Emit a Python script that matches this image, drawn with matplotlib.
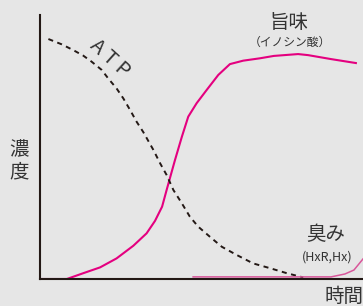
import matplotlib
matplotlib.use('Agg')
import matplotlib.pyplot as plt

plt.rcParams['font.family'] = ['Noto Sans CJK JP', 'DejaVu Sans']

# 旨味（イノシン酸）の曲線
umami_t = [0, 8.3, 13.4, 18.6, 23.7, 28.9, 33.0, 35.6, 37.8, 39.2, 40.2, 41.8,
           43.9, 45.9, 48.5, 51.6, 55.2, 58.8, 62.9, 68.1, 72.4, 79.9, 83.0,
           90.1, 97.8]
umami_c = [0, 0, 2.2, 4.4, 7.8, 12.6, 17.3, 22.0, 27.4, 33.7, 38.1, 45.1,
           53.8, 61.5, 66.6, 71.6, 77.3, 81.4, 82.7, 83.6, 84.5, 85.2, 84.8,
           83.3, 81.8]

# ATP の曲線
atp_t = [2.6, 6.7, 10.3, 13.4, 16.0, 19.1, 21.1, 23.7, 25.8, 27.9, 29.9, 32.0,
         35.1, 37.2, 39.2, 41.3, 43.9, 46.4, 49.0, 52.6, 56.3, 60.9, 66.0,
         71.2, 76.4, 81.5]
atp_c = [90.9, 88.9, 86.7, 84.6, 82.3, 79.2, 76.0, 72.2, 68.4, 64.0, 59.6, 55.6,
         48.9, 43.8, 39.4, 33.7, 28.7, 23.6, 19.8, 16.0, 12.2, 9.1, 5.9,
         4.1, 2.2, 0.6]

# 臭み（HxR,Hx）の曲線
smell_t = [47.4, 90.1, 94.4, 97.2, 100]
smell_c = [0.8, 0.8, 1.9, 3.4, 7.6]

bg = '#e6e6e6'
fig = plt.figure(figsize=(3.63, 3.06), dpi=100, facecolor=bg)
ax = fig.add_axes([40/363, 27/306, 323/363, 264/306])
ax.set_facecolor(bg)

ax.plot(umami_t, umami_c, color='#e4007f', lw=1.5, solid_joinstyle='round')
ax.plot(atp_t, atp_c, color='#231815', lw=1.4, dashes=(2.6, 2.3))
ax.plot(smell_t, smell_c, color='#d9569a', lw=1.1, solid_joinstyle='round')

ax.set_xlim(0, 100)
ax.set_ylim(0, 100)
ax.set_xticks([])
ax.set_yticks([])
for s in ['top', 'right']:
    ax.spines[s].set_visible(False)
for s in ['left', 'bottom']:
    ax.spines[s].set_color('#231815')
    ax.spines[s].set_linewidth(1.5)

txt = '#333333'
ax.text(21.6, 83.6, 'A T P', rotation=-42, fontsize=14.5, color=txt,
        ha='center', va='center')
ax.text(77.1, 97.3, '旨味', fontsize=14, color=txt, ha='center', va='center',
        clip_on=False)
ax.text(77.4, 89.8, '（イノシン酸）', fontsize=8.5, color=txt,
        ha='center', va='center')
ax.text(88.5, 17.0, '臭み', fontsize=14, color=txt, ha='center', va='center')
ax.text(88.9, 8.3, '(HxR,Hx)', fontsize=9, color=txt,
        ha='center', va='center')
ax.text(94.1, -6.8, '時間', fontsize=14, color=txt, ha='center', va='center',
        clip_on=False)
ax.text(-6.5, 44.7, '濃\n度', fontsize=14, color=txt, ha='center',
        va='center', linespacing=1.05, clip_on=False)

plt.savefig('out.png', dpi=100, facecolor=bg)
